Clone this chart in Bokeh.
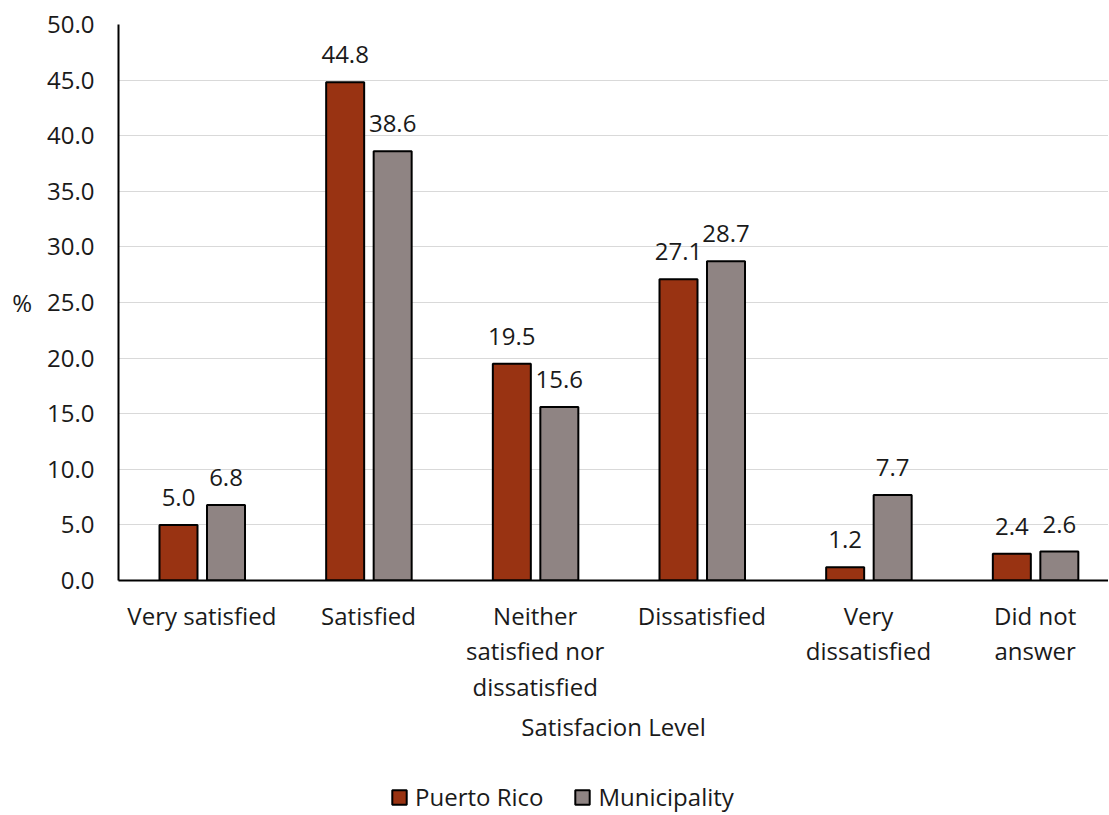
from bokeh.plotting import figure
from bokeh.layouts import column
from bokeh.models import (ColumnDataSource, Range1d, Legend, LegendItem,
                          SingleIntervalTicker, FixedTicker, NumeralTickFormatter, LabelSet)
from bokeh.core.properties import value
from bokeh.embed import file_html
from bokeh.resources import INLINE

categories = ["Very satisfied", "Satisfied", "Neither\nsatisfied nor\ndissatisfied",
              "Dissatisfied", "Very\ndissatisfied", "Did not\nanswer"]
puerto_rico = [5.0, 44.8, 19.5, 27.1, 1.2, 2.4]
municipality = [6.8, 38.6, 15.6, 28.7, 7.7, 2.6]
series_names = ["Puerto Rico", "Municipality"]

FONT = "Open Sans"
FS = "24px"
TXT = "#1a1a1a"
PR_COLOR = "#993312"
MU_COLOR = "#8f8483"

centers = [i + 0.5 for i in range(len(categories))]
OFF_PR, OFF_MU, W = -0.14, 0.145, 0.228

src = ColumnDataSource(dict(
    x_pr=[c + OFF_PR for c in centers], x_mu=[c + OFF_MU for c in centers],
    pr=puerto_rico, mu=municipality,
    pr_lbl=[f"{v:.1f}" for v in puerto_rico],
    mu_lbl=[f"{v:.1f}" for v in municipality],
))

p = figure(x_range=Range1d(0, 5.94), y_range=Range1d(0, 50),
           frame_width=990, frame_height=556, output_backend="svg", toolbar_location=None,
           min_border_left=118, min_border_right=0, min_border_top=24, min_border_bottom=0)
p.outline_line_color = None
p.background_fill_color = "white"
p.border_fill_color = "white"

bar_pr = dict(fill_color=PR_COLOR, line_color="black", line_width=2)
bar_mu = dict(fill_color=MU_COLOR, line_color="black", line_width=2)
p.vbar(x="x_pr", top="pr", width=W, source=src, **bar_pr)
p.vbar(x="x_mu", top="mu", width=W, source=src, **bar_mu)

lbl_style = dict(text_font=value(FONT), text_font_size=FS, text_color=TXT,
                 text_align="center", text_baseline="alphabetic", y_offset=19)
p.add_layout(LabelSet(x="x_pr", y="pr", text="pr_lbl", source=src, **lbl_style))
p.add_layout(LabelSet(x="x_mu", y="mu", text="mu_lbl", source=src, **lbl_style))

# y axis
p.yaxis.ticker = SingleIntervalTicker(interval=5)
p.yaxis.formatter = NumeralTickFormatter(format="0.0")
p.yaxis.major_tick_line_color = None
p.yaxis.minor_tick_line_color = None
p.yaxis.axis_line_width = 2
p.yaxis.axis_line_color = "black"
p.yaxis.major_label_text_font = FONT
p.yaxis.major_label_text_font_size = FS
p.yaxis.major_label_text_color = TXT
p.yaxis.major_label_standoff = 18
p.yaxis.axis_label = "%"
p.yaxis.axis_label_orientation = "horizontal"
p.yaxis.axis_label_text_font = FONT
p.yaxis.axis_label_text_font_size = FS
p.yaxis.axis_label_text_font_style = "normal"
p.yaxis.axis_label_text_color = TXT
p.yaxis.axis_label_standoff = 12

# x axis
p.xaxis.ticker = FixedTicker(ticks=centers)
p.xaxis.major_label_overrides = {c: lab for c, lab in zip(centers, categories)}
p.xaxis.major_tick_line_color = None
p.xaxis.minor_tick_line_color = None
p.xaxis.axis_line_width = 2
p.xaxis.axis_line_color = "black"
p.xaxis.major_label_text_font = FONT
p.xaxis.major_label_text_font_size = FS
p.xaxis.major_label_text_color = TXT
p.xaxis.major_label_text_line_height = 1.08
p.xaxis.major_label_standoff = 12
p.xaxis.axis_label = "Satisfacion Level"
p.xaxis.axis_label_text_font = FONT
p.xaxis.axis_label_text_font_size = FS
p.xaxis.axis_label_text_font_style = "normal"
p.xaxis.axis_label_text_color = TXT
p.xaxis.axis_label_standoff = 4

p.xgrid.grid_line_color = None
p.ygrid.grid_line_color = "#d9d9d9"
p.ygrid.grid_line_width = 1

# legend strip below the chart (no axes)
lg = figure(x_range=Range1d(0, 1), y_range=Range1d(0, 1), frame_width=990, frame_height=68,
            x_axis_type=None, y_axis_type=None,
            output_backend="svg", toolbar_location=None,
            min_border_left=118, min_border_right=0, min_border_top=0, min_border_bottom=0)
lg.grid.grid_line_color = None
lg.outline_line_color = None
lg.background_fill_color = "white"
lg.border_fill_color = "white"
# legend-only renderers: NaN positions so nothing is drawn in the strip itself
d_pr = lg.vbar(x=[float("nan")], top=[float("nan")], width=0.1, **bar_pr)
d_mu = lg.vbar(x=[float("nan")], top=[float("nan")], width=0.1, **bar_mu)

legend = Legend(items=[LegendItem(label=series_names[0], renderers=[d_pr]),
                       LegendItem(label=series_names[1], renderers=[d_mu])],
                orientation="horizontal", location=(272, 0),
                label_text_font=FONT, label_text_font_size=FS, label_text_color=TXT,
                glyph_width=18, glyph_height=18, spacing=30, label_standoff=7,
                border_line_color=None, background_fill_alpha=0, margin=0, padding=0)
lg.add_layout(legend, "center")

layout = column(p, lg)
open("out.html", "w").write(file_html(layout, INLINE))
